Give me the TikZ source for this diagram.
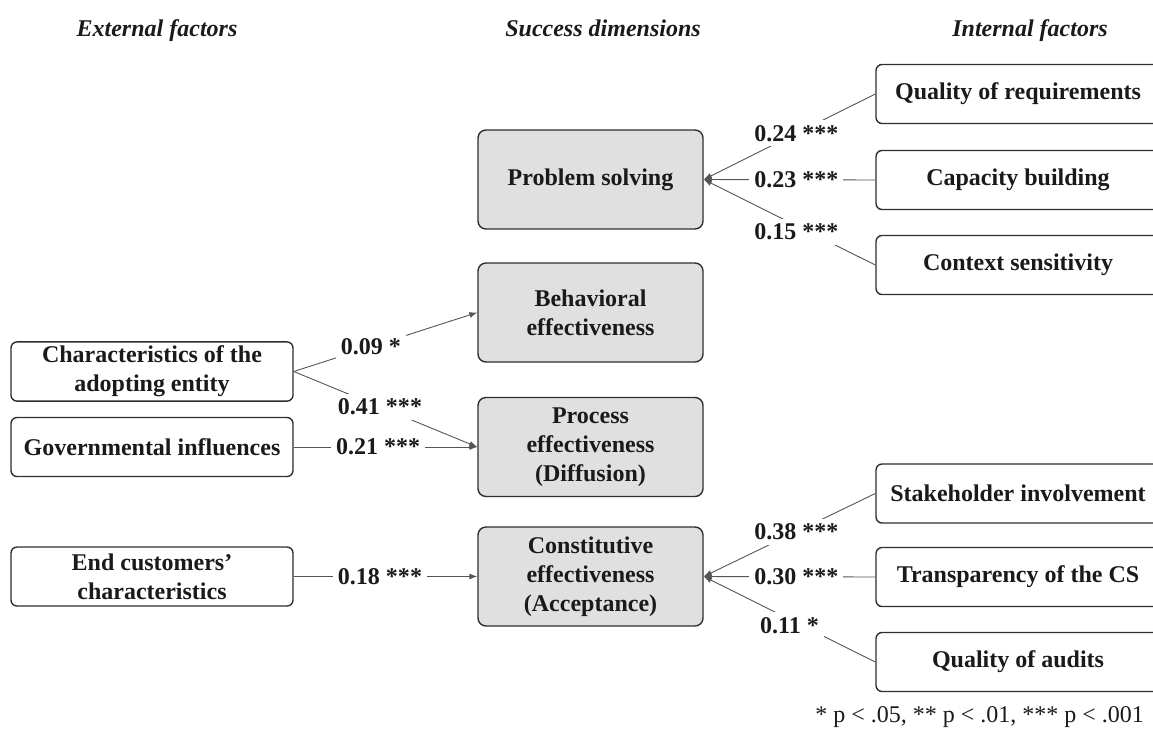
\documentclass[tikz,border=0pt]{standalone}
\usepackage{fontspec}
\setmainfont{Liberation Serif}
\usepackage{tikz}
\usetikzlibrary{arrows.meta,positioning}
\definecolor{boxfill} {HTML}{E0E0E0}
\definecolor{boxline} {HTML}{2E2E2E}
\definecolor{connline}{HTML}{555555}
\definecolor{ink}     {HTML}{1A1A1A}
\tikzset{
  basefont/.style ={font=\fontsize{12bp}{14.5bp}\selectfont\bfseries, text=ink},
  extbox/.style   ={draw=boxline, fill=white, line width=0.7pt, rounded corners=3bp,
                    minimum width=141bp, minimum height=29.5bp,
                    align=center, inner sep=2pt, basefont},
  dimbox/.style   ={draw=boxline, fill=boxfill, line width=0.7pt, rounded corners=4bp,
                    minimum width=112.5bp, minimum height=49.5bp,
                    align=center, inner sep=2pt, basefont},
  intbox/.style   ={draw=boxline, fill=white, line width=0.7pt, rounded corners=3bp,
                    minimum width=142bp, minimum height=29.5bp,
                    align=center, inner sep=2pt, basefont},
  headlabel/.style={anchor=base, font=\fontsize{12bp}{14bp}\selectfont\bfseries\itshape, text=ink},
  coef/.style     ={fill=white, inner sep=2.5bp, basefont},
  conn/.style     ={-{Latex[length=4bp,width=3bp]}, line width=0.45pt, color=connline},
}
\begin{document}
\begin{tikzpicture}[x=0.5bp,y=-0.5bp]
    \useasboundingbox (0,0) rectangle (1153,732);
    \clip (0,0) rectangle (1153,732);

    % column headers
    \node[headlabel] (hext) at ( 157,36) {External factors};
    \node[headlabel] (hdim) at ( 603,36) {Success dimensions};
    \node[headlabel] (hint) at (1030,36) {Internal factors};

    % external factors
    \node[extbox] (char) at (152,371.5) {Characteristics of the\\adopting entity};
    \node[extbox] (gov)  at (152,447)   {Governmental influences};
    \node[extbox] (cust) at (152,576.5) {End customers'\\characteristics};

    % success dimensions
    \node[dimbox] (prob) at (590.5,179.5) {Problem solving};
    \node[dimbox] (beha) at (590.5,312.5) {Behavioral\\effectiveness};
    \node[dimbox] (proc) at (590.5,447)   {Process\\effectiveness\\(Diffusion)};
    \node[dimbox] (cons) at (590.5,576.5) {Constitutive\\effectiveness\\(Acceptance)};

    % internal factors
    \node[intbox] (qreq)  at (1018,94)    {Quality of requirements};
    \node[intbox] (capa)  at (1018,180)   {Capacity building};
    \node[intbox] (ctxt)  at (1018,265)   {Context sensitivity};
    \node[intbox] (stake) at (1018,493.5) {Stakeholder involvement};
    \node[intbox] (trans) at (1018,577)   {Transparency of the CS};
    \node[intbox] (audit) at (1018,662)   {Quality of audits};

    % internal factors -> dimensions
    \draw[conn] (qreq.west)  -- node[coef,pos=0.46]            {0.24 ***} (prob.east);
    \draw[conn] (capa.west)  -- node[coef,pos=0.46]            {0.23 ***} (prob.east);
    \draw[conn] (ctxt.west)  -- node[coef,pos=0.46,yshift=-3bp]{0.15 ***} (prob.east);
    \draw[conn] (stake.west) -- node[coef,pos=0.46]            {0.38 ***} (cons.east);
    \draw[conn] (trans.west) -- node[coef,pos=0.46]            {0.30 ***} (cons.east);
    \draw[conn] (audit.west) -- node[coef,pos=0.50,yshift=-3bp]{0.11 *}   (cons.east);

    % external factors -> dimensions
    \draw[conn] (char.east) -- node[coef,pos=0.42]{0.09 *}   (beha.west);
    \draw[conn] (char.east) -- node[coef,pos=0.47]{0.41 ***} (proc.west);
    \draw[conn] (gov.east)  -- node[coef,pos=0.46]{0.21 ***} (proc.west);
    \draw[conn] (cust.east) -- node[coef,pos=0.47]{0.18 ***} (cons.west);

    % significance note
    \node[anchor=east,font=\fontsize{12bp}{14bp}\selectfont,text=ink] (note) at (1151,717)
      {* p < .05, ** p < .01, *** p < .001};
\end{tikzpicture}
\end{document}
